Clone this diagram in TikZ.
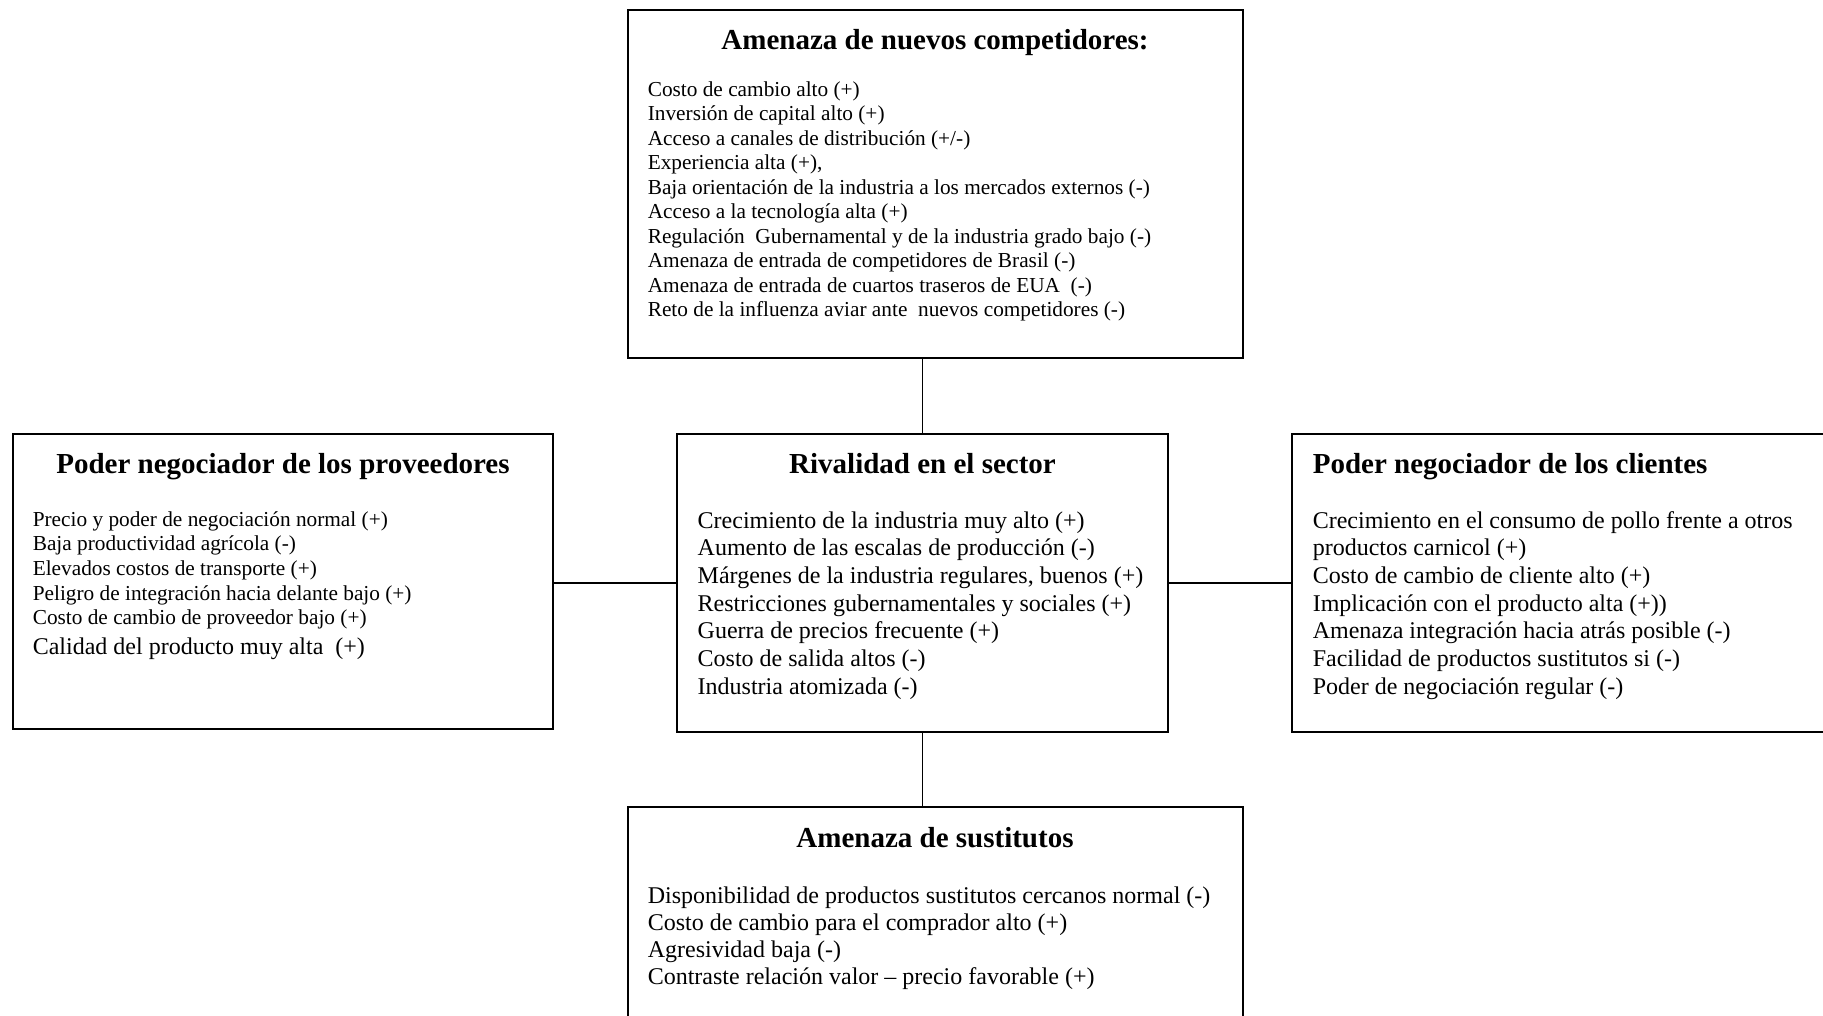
\documentclass[tikz,border=0pt]{standalone}
\usepackage{fontspec}
\setmainfont{Liberation Serif}
\begin{document}
\begin{tikzpicture}[x=1pt,y=-1pt,
  box/.style={draw=black, line width=1.8pt, rectangle, inner sep=0pt, anchor=north west},
  ttl/.style={font=\bfseries\fontsize{29}{33}\selectfont, inner sep=0pt, anchor=base},
  lst/.style={inner sep=0pt, anchor=north west, align=left},
  small/.style={font=\fontsize{21.3}{24.5}\selectfont},
  large/.style={font=\fontsize{24}{27.7}\selectfont},
  link/.style={line width=1.8pt}]
\useasboundingbox (0,0) rectangle (1823,1016);
\clip (0,0) rectangle (1823,1016);

% frames of the five forces
\node[box, minimum width=615pt, minimum height=347.5pt] (nuevos) at (627,9.5) {};
\node[box, minimum width=491pt, minimum height=298pt] (rival) at (676,433) {};
\node[box, minimum width=540pt, minimum height=295pt] (prov) at (12,433) {};
\node[box, minimum width=560pt, minimum height=298pt] (cli) at (1291,433) {};
\node[box, minimum width=615pt, minimum height=240pt] (sust) at (627,806) {};

% connectors
\draw[link] (rival.north) -- (rival.north |- nuevos.south);
\draw[link] (rival.south) -- (rival.south |- sust.north);
\draw[link] (rival.west) -- (rival.west -| prov.east);
\draw[link] (rival.east) -- (rival.east -| cli.west);

% titles
\node[ttl] (tnuevos) at (935,49.5) {Amenaza de nuevos competidores:};
\node[ttl] (trival) at (922.5,473) {Rivalidad en el sector};
\node[ttl] (tprov) at (283,473) {Poder negociador de los proveedores};
\node[ttl, anchor=base west] (tcli) at (1312.6,473) {Poder negociador de los clientes};
\node[ttl] (tsust) at (935,847) {Amenaza de sustitutos};

% lists
\node[lst, small] (lnuevos) at (647.6,78.85) {%
\strut Costo de cambio alto (+)\\
\strut Inversión de capital alto (+)\\
\strut Acceso a canales de distribución (+/-)\\
\strut Experiencia alta (+),\\
\strut Baja orientación de la industria a los mercados externos (-)\\
\strut Acceso a la tecnología alta (+)\\
\strut Regulación\ \ Gubernamental y de la industria grado bajo (-)\\
\strut Amenaza de entrada de competidores de Brasil (-)\\
\strut Amenaza de entrada de cuartos traseros de EUA\ \ (-)\\
\strut Reto de la influenza aviar ante\ \ nuevos competidores (-)};

\node[lst, large] (lrival) at (697.5,508.6) {%
\strut Crecimiento de la industria muy alto (+)\\
\strut Aumento de las escalas de producción (-)\\
\strut Márgenes de la industria regulares, buenos (+)\\
\strut Restricciones gubernamentales y sociales (+)\\
\strut Guerra de precios frecuente (+)\\
\strut Costo de salida altos (-)\\
\strut Industria atomizada (-)};

\node[lst, font=\fontsize{21.3}{24.7}\selectfont] (lprov) at (32.6,508.7) {%
\strut Precio y poder de negociación normal (+)\\
\strut Baja productividad agrícola (-)\\
\strut Elevados costos de transporte (+)\\
\strut Peligro de integración hacia delante bajo (+)\\
\strut Costo de cambio de proveedor bajo (+)\\[2pt]
{\fontsize{24}{27.7}\selectfont\strut Calidad del producto muy alta\ \ (+)}};

\node[lst, large] (lcli) at (1312.6,508.6) {%
\strut Crecimiento en el consumo de pollo frente a otros\\
\strut productos carnicol (+)\\
\strut Costo de cambio de cliente alto (+)\\
\strut Implicación con el producto alta (+))\\
\strut Amenaza integración hacia atrás posible (-)\\
\strut Facilidad de productos sustitutos si (-)\\
\strut Poder de negociación regular (-)};

\node[lst, font=\fontsize{24}{27.1}\selectfont] (lsust) at (647.6,884.5) {%
\strut Disponibilidad de productos sustitutos cercanos normal (-)\\
\strut Costo de cambio para el comprador alto (+)\\
\strut Agresividad baja (-)\\
\strut Contraste relación valor – precio favorable (+)};
\end{tikzpicture}
\end{document}
